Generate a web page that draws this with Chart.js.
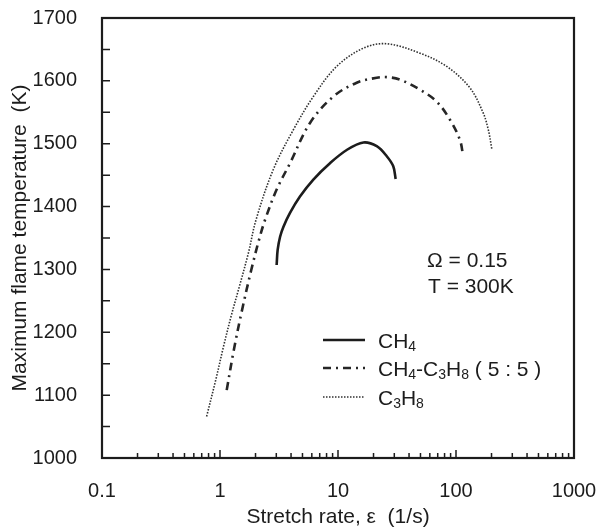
<!DOCTYPE html>
<html><head><meta charset="utf-8">
<script src="https://cdn.jsdelivr.net/npm/chart.js@4/dist/chart.umd.min.js"></script>
<style>html,body{margin:0;padding:0;background:#fff}canvas{display:block}</style>
</head><body>
<canvas id="c" width="601" height="528"></canvas>
<script>
// ---- data ----
const seriesNames = ['CH4', 'CH4-C3H8 ( 5 : 5 )', 'C3H8'];
const ch4X = [3.02, 3.08, 3.23, 3.45, 3.92, 4.76, 6.18, 8.55, 11.85, 16.4, 21.3, 25.9, 29.4, 30.8];
const ch4Y = [1307, 1331, 1352, 1368, 1390, 1416, 1443, 1469, 1490, 1502, 1496, 1480, 1464, 1444];
const mixX = [1.14, 1.31, 1.54, 1.84, 2.14, 2.41, 3.02, 3.92, 5.79, 9.12, 14.4, 21.3, 25.9, 33.5, 49.5, 68.6, 89, 108, 115];
const mixY = [1108, 1172, 1236, 1299, 1347, 1379, 1427, 1469, 1533, 1575, 1597, 1605, 1606, 1602, 1586, 1567, 1538, 1506, 1480];
const c3h8X = [0.77, 0.92, 1.07, 1.24, 1.46, 1.74, 2.02, 2.83, 4.18, 6.18, 9.75, 16.4, 25.9, 49.5, 83.4, 131, 170, 188, 201];
const c3h8Y = [1066, 1124, 1177, 1225, 1273, 1326, 1379, 1459, 1522, 1575, 1623, 1652, 1659, 1644, 1623, 1589, 1549, 1522, 1492];
const xTickValues = [0.1, 1, 10, 100, 1000];
const xTickLabels = ['0.1', '1', '10', '100', '1000'];
const yTickValues = [1000, 1100, 1200, 1300, 1400, 1500, 1600, 1700];
const yTickLabels = ['1000', '1100', '1200', '1300', '1400', '1500', '1600', '1700'];
const yMinorTickValues = [1050, 1150, 1250, 1350, 1450, 1550, 1650];
const annotationLines = ['\u03A9 = 0.15', 'T = 300K'];
const xTitle = 'Stretch rate, \u03B5  (1/s)';
const yTitle = 'Maximum flame temperature  (K)';

const ink = '#1c1c1c';
const FONT = '"Liberation Sans", Arial, sans-serif';

function pts(xs, ys) { return xs.map((x, i) => ({x: x, y: ys[i]})); }

const styles = [
  {borderWidth: 2.6, borderDash: [], color: ink},
  {borderWidth: 2.6, borderDash: [8, 5, 2, 5], color: '#262626'},
  {borderWidth: 1.6, borderDash: [1.5, 1.5], color: '#303030'}
];

// legend label pieces: [text, isSubscript]
const legendPieces = [
  [['CH', 0], ['4', 1]],
  [['CH', 0], ['4', 1], ['-C', 0], ['3', 1], ['H', 0], ['8', 1], [' ( 5 : 5 )', 0]],
  [['C', 0], ['3', 1], ['H', 0], ['8', 1]]
];

const decorPlugin = {
  id: 'decor',
  afterDatasetsDraw(chart) {
    const {ctx, chartArea: a, scales: {x, y}} = chart;
    ctx.save();
    ctx.strokeStyle = ink;
    ctx.lineWidth = 1.5;
    ctx.beginPath();
    yTickValues.concat(yMinorTickValues).forEach(v => {
      const py = y.getPixelForValue(v);
      ctx.moveTo(a.left, py); ctx.lineTo(a.left + 8, py);
    });
    for (let d = 0; d < xTickValues.length; d++) {
      const base = xTickValues[d];
      const px = x.getPixelForValue(base);
      ctx.moveTo(px, a.bottom); ctx.lineTo(px, a.bottom - 8);
      if (d < xTickValues.length - 1) {
        for (let m = 2; m <= 9; m++) {
          const p = x.getPixelForValue(base * m);
          ctx.moveTo(p, a.bottom); ctx.lineTo(p, a.bottom - 5);
        }
      }
    }
    ctx.stroke();
    ctx.lineWidth = 2.2;
    ctx.strokeRect(a.left, a.top, a.right - a.left, a.bottom - a.top);

    ctx.fillStyle = ink;
    ctx.font = '21px ' + FONT;
    ctx.textAlign = 'left';
    ctx.textBaseline = 'alphabetic';
    ctx.fillText(annotationLines[0], 427, 267);
    ctx.fillText(annotationLines[1], 428, 293);

    const rowsY = [340, 368, 397];
    chart.data.datasets.forEach((ds, i) => {
      const ly = rowsY[i];
      ctx.beginPath();
      ctx.strokeStyle = ds.borderColor;
      ctx.lineWidth = ds.borderWidth;
      ctx.setLineDash(ds.borderDash || []);
      ctx.moveTo(323, ly); ctx.lineTo(365, ly);
      ctx.stroke();
      ctx.setLineDash([]);
      let tx = 378;
      const baseY = ly + 7.5;
      legendPieces[i].forEach(([t, sub]) => {
        ctx.font = (sub ? '14px ' : '21px ') + FONT;
        ctx.fillText(t, tx, sub ? baseY + 3.5 : baseY);
        tx += ctx.measureText(t).width;
      });
    });
    ctx.restore();
  }
};

function zeroPad(s) { s.paddingLeft = 0; s.paddingRight = 0; s.paddingTop = 0; s.paddingBottom = 0; }

new Chart(document.getElementById('c'), {
  type: 'line',
  data: {
    datasets: [
      {label: seriesNames[0], data: pts(ch4X, ch4Y)},
      {label: seriesNames[1], data: pts(mixX, mixY)},
      {label: seriesNames[2], data: pts(c3h8X, c3h8Y)}
    ].map((d, i) => Object.assign(d, {
      borderColor: styles[i].color,
      borderWidth: styles[i].borderWidth,
      borderDash: styles[i].borderDash,
      pointRadius: 0,
      fill: false,
      tension: 0.35
    }))
  },
  options: {
    responsive: false,
    devicePixelRatio: 1,
    animation: false,
    layout: {padding: {top: 18, right: 27, left: 0, bottom: 0}},
    plugins: {legend: {display: false}, tooltip: {enabled: false}},
    scales: {
      x: {
        type: 'logarithmic',
        min: 0.1, max: 1000,
        afterBuildTicks: s => { s.ticks = xTickValues.map(v => ({value: v})); },
        afterFit: s => { s.height = 70; zeroPad(s); },
        grid: {display: false},
        border: {display: false},
        ticks: {
          autoSkip: false, maxRotation: 0, padding: 13,
          color: ink, font: {family: FONT, size: 20},
          callback: (v) => { const i = xTickValues.indexOf(v); return i >= 0 ? xTickLabels[i] : ''; }
        },
        title: {display: true, text: xTitle, color: ink,
          font: {family: FONT, size: 21, lineHeight: 1}, padding: {top: 0, bottom: 0}}
      },
      y: {
        type: 'linear',
        min: 1000, max: 1700,
        afterBuildTicks: s => { s.ticks = yTickValues.map(v => ({value: v})); },
        afterFit: s => { s.width = 102; zeroPad(s); },
        grid: {display: false},
        border: {display: false},
        ticks: {padding: 17, color: ink, font: {family: FONT, size: 20},
          callback: (v) => { const i = yTickValues.indexOf(v); return i >= 0 ? yTickLabels[i] : ''; }},
        title: {display: true, text: yTitle, color: ink,
          font: {family: FONT, size: 21, lineHeight: 1}, padding: {top: 9.5, bottom: 0}}
      }
    }
  },
  plugins: [decorPlugin]
});
</script>
</body></html>
